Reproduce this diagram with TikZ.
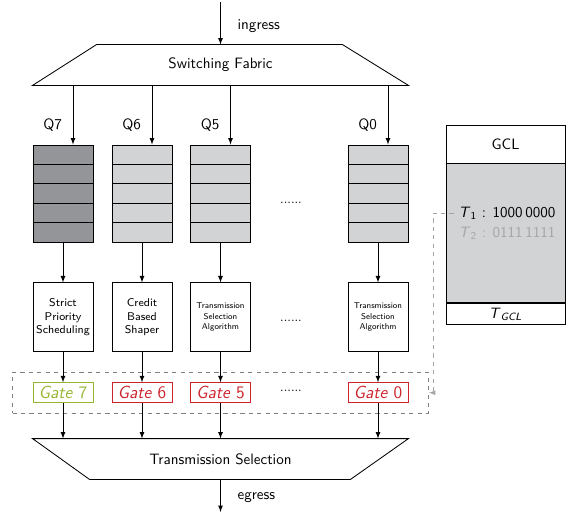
\documentclass[tikz,border=0pt]{standalone}
\usetikzlibrary{positioning,fit}

\definecolor{queuedark}{RGB}{147,149,152}
\definecolor{queuelight}{RGB}{209,211,212}
\definecolor{gatered}{RGB}{205,35,45}
\definecolor{gategreen}{RGB}{150,182,50}
\definecolor{linkgray}{RGB}{165,165,165}

\tikzset{
    queue/.style={draw, minimum width=1.5cm, minimum height=2.425cm, inner sep=0pt,
        path picture={\foreach \i in {1,...,4}
            \draw ([yshift=-\i*0.485cm]path picture bounding box.north west)
                -- ([yshift=-\i*0.485cm]path picture bounding box.north east);}},
    algo/.style={draw, minimum width=1.5cm, minimum height=1.725cm, align=center, inner sep=1pt},
    gate/.style={draw=gatered, text=gatered, minimum width=1.5cm, minimum height=0.5cm, inner sep=0pt,
        font=\sffamily\fontsize{12.5}{14}\selectfont},
    gcl/.style={draw, minimum width=2.975cm, inner sep=0pt},
    dots/.style={font=\small}
}

\begin{document}
\begin{tikzpicture}[x=0.025cm, y=-0.025cm, node distance=1cm, >=latex, semithick,
                    font=\sffamily\fontsize{10.7}{13}\selectfont]
    \useasboundingbox (0,0) rectangle (572,513);

    % switching fabric
    \node (fab) [minimum width=9.375cm, minimum height=1cm, inner sep=0pt] at (220.5,65) {Switching Fabric};
    \draw (fab.south west) -- ([xshift=1.6cm]fab.north west) -- ([xshift=-1.65cm]fab.north east)
          -- (fab.south east) -- cycle;
    \coordinate (in) at (fab.north |- 0,2);
    \draw[->] (in) -- node[right, xshift=0.3cm, yshift=-0.06cm] {ingress} (fab.north);

    % queues
    \node (q7) [queue, fill=queuedark] at (63,193.5) {};
    \node (q6) [queue, fill=queuelight] at (142,193.5) {};
    \node (q5) [queue, fill=queuelight] at (220.5,193.5) {};
    \node (q0) [queue, fill=queuelight] at (378,193.5) {};
    \node (qdots) [dots] at (291,203) {......};

    \foreach \q/\lab in {q7/Q7, q6/Q6, q5/Q5, q0/Q0}
        \draw[->] ([xshift=0.25cm]\q.north |- fab.south)
            -- node[left, pos=0.67, xshift=-0.15cm] {\lab} ([xshift=0.25cm]\q.north);

    % transmission selection algorithms
    \node (a7) [algo, below=of q7, font=\sffamily\footnotesize] {Strict\\Priority\\Scheduling};
    \node (a6) [algo, below=of q6, font=\sffamily\footnotesize] {Credit\\Based\\Shaper};
    \node (a5) [algo, below=of q5, font=\sffamily\fontsize{6}{7.5}\selectfont] {Transmission\\Selection\\Algorithm};
    \node (a0) [algo, below=of q0, font=\sffamily\fontsize{6}{7.5}\selectfont] {Transmission\\Selection\\Algorithm};
    \node (adots) [dots] at (291,321) {......};

    % gates
    \node (g7) [gate, draw=gategreen, text=gategreen, below=0.75cm of a7] {\textit{Gate} 7};
    \node (g6) [gate, below=0.75cm of a6] {\textit{Gate} 6};
    \node (g5) [gate, below=0.75cm of a5] {\textit{Gate} 5};
    \node (g0) [gate, below=0.75cm of a0] {\textit{Gate} 0};
    \node (gdots) [dots] at (291,391) {......};
    \node (gates) [draw=gray, dashed, fit=(g7)(g0), inner xsep=0.5cm, inner ysep=0.25cm] {};

    % transmission selection
    \node (ts) [minimum width=9.375cm, minimum height=1cm, inner sep=0pt] at (220.5,459) {Transmission Selection};
    \draw (ts.north west) -- (ts.north east) -- ([xshift=-1.45cm]ts.south east)
          -- ([xshift=1.425cm]ts.south west) -- cycle;
    \coordinate (out) at (ts.south |- 0,512);
    \draw[->] (ts.south) -- node[right, xshift=0.3cm, yshift=-0.05cm] {egress} (out);

    \foreach \k in {7,6,5,0} {
        \draw[->] (q\k) -- (a\k);
        \draw[->] (a\k) -- (g\k);
        \draw[->] (g\k) -- (g\k |- ts.north);
    }

    % gate control list
    \node (gclhead) [gcl, minimum height=0.95cm] at (505.5,144) {GCL};
    \node (gclbody) [gcl, minimum height=3.475cm, fill=queuelight, below=0pt of gclhead] {};
    \node (gcltail) [gcl, minimum height=0.525cm, below=0pt of gclbody] {\textit{T}\textsubscript{\textit{GCL}}};
    \node (t1) at (507,213) {\textit{T}\textsubscript{1} : 1000\,0000};
    \node (t2) [text=linkgray] at (507,233) {\textit{T}\textsubscript{2} : 0111\,1111};

    \draw[->, linkgray, dashed] (t1.west) -- ++(-20,0) |- (gates.east);
\end{tikzpicture}
\end{document}
